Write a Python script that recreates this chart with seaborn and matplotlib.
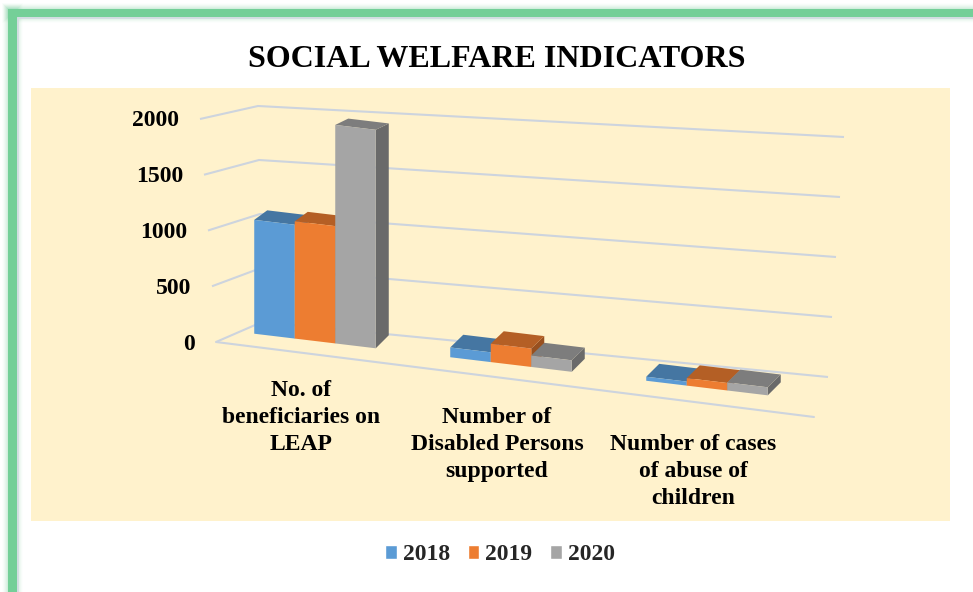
import numpy as np
import pandas as pd
import seaborn as sns
import matplotlib
matplotlib.use("Agg")
import matplotlib.pyplot as plt
from matplotlib.colors import to_rgb
from matplotlib.patches import Polygon, Rectangle
from matplotlib.transforms import Affine2D, IdentityTransform

# ---- data -------------------------------------------------------------
indicators = [
    "No. of\nbeneficiaries on\nLEAP",
    "Number of\nDisabled Persons\nsupported",
    "Number of cases\nof abuse of\nchildren",
]
years = ["2018", "2019", "2020"]
values_2018 = [990, 85, 35]
values_2019 = [1020, 160, 65]
values_2020 = [1900, 100, 70]
y_ticks = [0, 500, 1000, 1500, 2000]
colors = ["#5B9BD5", "#ED7D31", "#A5A5A5"]

df = pd.DataFrame({
    "indicator": indicators * len(years),
    "year": np.repeat(years, len(indicators)),
    "value": values_2018 + values_2019 + values_2020,
})

# ---- style ------------------------------------------------------------
sns.set_theme(style="white")
SERIF = ["Liberation Serif", "DejaVu Serif"]
plt.rcParams["font.family"] = SERIF

W, H = 973, 592
fig = plt.figure(figsize=(W / 100, H / 100), dpi=100)
fig.patch.set_facecolor("white")

# scene axes in pixel units (origin top-left) for frame, walls and labels
scene = fig.add_axes([0, 0, 1, 1])
scene.set_xlim(0, W)
scene.set_ylim(H, 0)
scene.axis("off")
scene.set_zorder(0)

# green page frame with a soft glow
green = "#74CF98"
for i in range(1, 7):
    a = 0.10 * (7 - i) / 6
    scene.add_patch(Rectangle((8 - i, 9 - i), W, 8 + 2 * i, fc=green, ec="none", alpha=a, zorder=1))
    scene.add_patch(Rectangle((8 - i, 9 - i), 9 + 2 * i, H, fc=green, ec="none", alpha=a, zorder=1))
scene.add_patch(Rectangle((8, 9), W, 8, fc=green, ec="none", zorder=2))
scene.add_patch(Rectangle((8, 9), 9, H, fc=green, ec="none", zorder=2))
scene.plot([18, W], [18, 18], color="#D3DAE3", lw=1.2, zorder=2)
scene.plot([18, 18], [18, H], color="#D3DAE3", lw=1.2, zorder=2)

# plot area
scene.add_patch(Rectangle((31, 88), 919, 433, fc="#FFF2CC", ec="none", zorder=0.5))

scene.text(497, 67, "SOCIAL WELFARE INDICATORS", ha="center", va="baseline",
           fontsize=23, fontweight="bold", color="black", zorder=3)

# ---- walls: left wall and back wall gridlines ------------------------
wall_front = ((216, 342), (200, 119))
wall_back = ((262, 322), (258, 106))
wall_right = ((828, 377), (844, 137))
floor_right = (814, 417)
grid_c = "#CDD4DE"


def lerp(seg, t):
    (x0, y0), (x1, y1) = seg
    return x0 + (x1 - x0) * t, y0 + (y1 - y0) * t


top_tick = y_ticks[-1]
for v in y_ticks:
    t = v / top_tick
    f = lerp(wall_front, t)
    b = lerp(wall_back, t)
    r = lerp(wall_right, t)
    scene.plot([f[0], b[0], r[0]], [f[1], b[1], r[1]], color=grid_c, lw=1.5,
               zorder=1, solid_joinstyle="miter", solid_capstyle="butt")
    scene.text(f[0] - 21, f[1] + 7.5, f"{v}", ha="right", va="baseline",
               fontsize=17, fontweight="bold", color="black", zorder=3)
f0 = lerp(wall_front, 0)
scene.plot([f0[0], floor_right[0]], [f0[1], floor_right[1]], color=grid_c, lw=1.5, zorder=1)

# ---- bars -------------------------------------------------------------
px0, pw, base, scale = 217, 588, 341, 0.115
ax = fig.add_axes([px0 / W, (H - base) / H, pw / W, top_tick * scale / H])
ax.set_zorder(2)
ax.patch.set_alpha(0)

sns.barplot(data=df, x="indicator", y="value", hue="year", palette=colors,
            width=0.62, gap=0, saturation=1, errorbar=None, ax=ax)
ax.set_xlim(-0.5, len(indicators) - 0.5)
ax.set_ylim(0, top_tick)
ax.set_autoscale_on(False)
ax.axis("off")

leg = ax.get_legend()
handles = list(leg.legend_handles)
labels = [t.get_text() for t in leg.get_texts()]
leg.remove()

# oblique view: the front plane slopes downward to the right
pivot = px0 + pw / 6
slope = 0.12
skew = Affine2D(np.array([[1, 0, 0], [-slope, 1, slope * pivot], [0, 0, 1]]))
front_tr = ax.transData + skew


def depth(h):
    # depth offset (display px) of a face edge at value h
    return np.array([13.0, 13.0 - 0.0035 * h])


def shade(c, f):
    r, g, b = to_rgb(c)
    return (r * f, g * f, b * f)


bars = sorted([p for p in ax.patches if p.get_height() > 0], key=lambda p: p.get_x())
for k, p in enumerate(bars):
    x0, w, h = p.get_x(), p.get_width(), p.get_height()
    fc = p.get_facecolor()
    bl, br, tr, tl = front_tr.transform([(x0, 0), (x0 + w, 0), (x0 + w, h), (x0, h)])
    d0, dh = depth(0), depth(h)
    z = 3 + k
    side = Polygon([br, tr, tr + dh, br + d0], closed=True, transform=IdentityTransform(),
                   fc=shade(fc, 0.64), ec="none", zorder=z)
    top = Polygon([tl, tr, tr + dh, tl + dh], closed=True, transform=IdentityTransform(),
                  fc=shade(fc, 0.76), ec="none", zorder=z + 0.1)
    ax.add_patch(side)
    ax.add_patch(top)
    p.set_transform(front_tr)
    p.set_clip_on(False)
    p.set_linewidth(0)
    p.set_zorder(z + 0.2)
    side.set_clip_on(False)
    top.set_clip_on(False)

# category labels under each group
label_skew = Affine2D(np.array([[1, 0, 0], [-0.138, 1, 0.138 * pivot], [0, 0, 1]]))
label_tr = ax.transData + label_skew + Affine2D().translate(-14, -39)
for i, name in enumerate(indicators):
    ax.text(i, 0, name, transform=label_tr, ha="center", va="top", multialignment="center",
            fontsize=17, fontweight="bold", color="black", linespacing=1.36, zorder=20,
            clip_on=False)

fig.legend(handles, labels, loc="center", bbox_to_anchor=(500 / W, 1 - 555 / H),
           ncol=3, frameon=False, handlelength=0.5, handleheight=0.5,
           handletextpad=0.25, columnspacing=0.75,
           prop={"family": SERIF, "weight": "bold", "size": 17})

fig.savefig("out.png", dpi=100, facecolor="white")
